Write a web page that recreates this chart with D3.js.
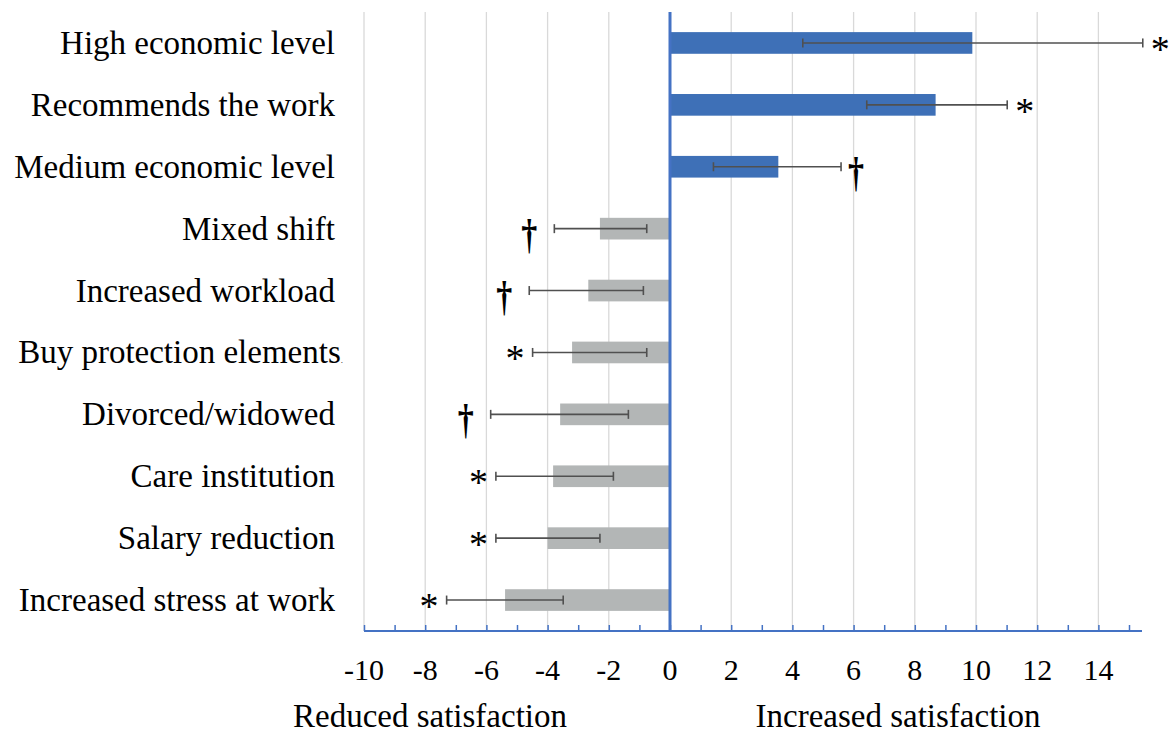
<!DOCTYPE html>
<html><head><meta charset="utf-8">
<script src="https://cdn.jsdelivr.net/npm/d3@7"></script>
<style>body{margin:0;background:#fff}svg{display:block}text{font-family:"Liberation Serif","Times New Roman",serif;fill:#000}</style>
</head><body><svg id="c" width="1174" height="735"></svg>
<script>
const categories = ["High economic level","Recommends the work","Medium economic level","Mixed shift","Increased workload","Buy protection elements","Divorced/widowed","Care institution","Salary reduction","Increased stress at work"];
const values   = [9.88, 8.68, 3.54, -2.29, -2.67, -3.2, -3.59, -3.82, -4.0, -5.39];
const errLow   = [4.34, 6.43, 1.42, -3.78, -4.6, -4.49, -5.86, -5.69, -5.69, -7.3];
const errHigh  = [15.45, 11.02, 5.59, -0.76, -0.87, -0.76, -1.36, -1.85, -2.29, -3.49];
const marks    = ["*","*","†","†","†","*","†","*","*","*"];
const tickVals = [-10,-8,-6,-4,-2,0,2,4,6,8,10,12,14];
const axisTitles = ["Reduced satisfaction","Increased satisfaction"];

const svg = d3.select("#c");
const x = d3.scaleLinear().domain([-10, 15]).range([364, 1129]);
const y = d3.scaleBand().domain(categories).range([12, 631]).paddingInner(0.65).paddingOuter(0.325);
const axisY = 631;

// gridlines
svg.append("g").selectAll("line").data(tickVals.filter(v=>v!==0)).join("line")
  .attr("x1",d=>x(d)).attr("x2",d=>x(d)).attr("y1",12).attr("y2",axisY)
  .attr("stroke","#d9d9d9").attr("stroke-width",1.3);

// bars
svg.append("g").selectAll("rect").data(categories).join("rect")
  .attr("x",(d,i)=>x(Math.min(0,values[i])))
  .attr("width",(d,i)=>Math.abs(x(values[i])-x(0)))
  .attr("y",d=>y(d)).attr("height",y.bandwidth())
  .attr("fill",(d,i)=>values[i]>=0?"#3e70b7":"#b3b6b6");

// error bars
const eb = svg.append("g").attr("stroke","#505050").attr("stroke-width",1.6);
categories.forEach((c,i)=>{
  const cy = y(c)+y.bandwidth()/2;
  eb.append("line").attr("x1",x(errLow[i])).attr("x2",x(errHigh[i])).attr("y1",cy).attr("y2",cy);
  [errLow[i],errHigh[i]].forEach(v=>eb.append("line").attr("x1",x(v)).attr("x2",x(v)).attr("y1",cy-4.5).attr("y2",cy+4.5));
});

// zero line
svg.append("line").attr("x1",x(0)).attr("x2",x(0)).attr("y1",12).attr("y2",axisY)
  .attr("stroke","#4472c4").attr("stroke-width",3);

// x axis
const xAxis = d3.axisBottom(x).tickValues(d3.range(-10,16,1)).tickSize(6).tickFormat("");
const ag = svg.append("g").attr("transform",`translate(0,${axisY})`).call(xAxis);
ag.select(".domain").remove();
ag.selectAll(".tick line").attr("y1",-6).attr("y2",0).attr("stroke","#4472c4").attr("stroke-width",1.5);
svg.append("line").attr("x1",x(-10)).attr("x2",1142).attr("y1",axisY).attr("y2",axisY)
  .attr("stroke","#4472c4").attr("stroke-width",2);

// tick labels
svg.append("g").selectAll("text").data(tickVals).join("text")
  .attr("x",d=>x(d)).attr("y",680).attr("text-anchor","middle").attr("font-size",30)
  .text(d=>d);

// category labels
const cl = svg.append("g").selectAll("text").data(categories).join("text")
  .attr("x",335).attr("y",d=>y(d)+y.bandwidth()/2+11).attr("text-anchor","end").attr("font-size",33)
  .text(d=>d);
cl.filter(d=>d==="Buy protection elements").attr("x",343).append("tspan").attr("font-size",9).text(".");

// significance marks
categories.forEach((c,i)=>{
  const cy = y(c)+y.bandwidth()/2;
  const pos = values[i]>=0;
  if(marks[i]==="*"){
    const ex = pos ? x(errHigh[i])+8 : x(errLow[i])-8;
    svg.append("text").attr("text-anchor",pos?"start":"end").attr("font-size",38)
      .attr("x",ex).attr("y",cy+19).text("*");
  } else {
    const ex = pos ? x(errHigh[i])+7 : x(errLow[i])-17;
    svg.append("text").attr("text-anchor",pos?"start":"end").attr("font-size",32)
      .attr("font-weight","bold").style("fill","#000")
      .attr("transform",`translate(${ex},${cy+19}) scale(1,1.35)`).text("†");
  }
});

// axis titles
svg.append("text").attr("x",430).attr("y",727).attr("text-anchor","middle").attr("font-size",33).text(axisTitles[0]);
svg.append("text").attr("x",898).attr("y",727).attr("text-anchor","middle").attr("font-size",33).text(axisTitles[1]);
</script></body></html>
